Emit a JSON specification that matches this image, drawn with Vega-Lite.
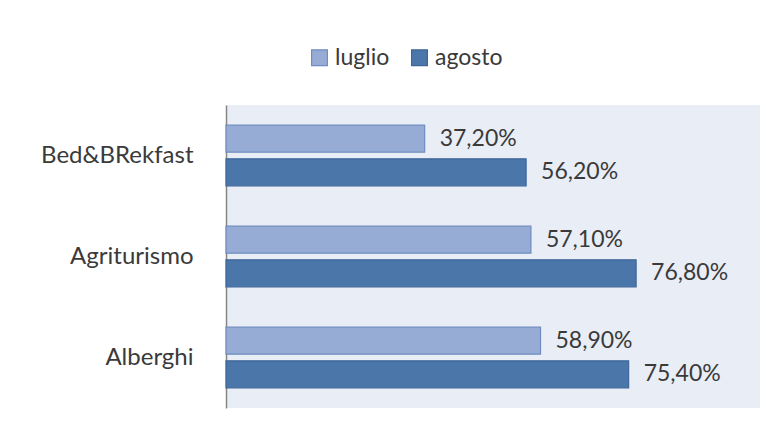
{
  "$schema": "https://vega.github.io/schema/vega-lite/v6.json",
  "width": 534,
  "height": 303,
  "autosize": {"type": "none"},
  "padding": {"left": 226, "top": 105, "right": 22, "bottom": 19},
  "background": "white",
  "config": {
    "locale": {"number": {"decimal": ",", "thousands": ".", "grouping": [3], "currency": ["€", ""]}},
    "view": {"fill": "#E9EDF5", "stroke": null},
    "font": "Lato"
  },
  "data": {
    "values": [
      {"struttura": "Bed&BRekfast", "mese": "luglio", "valore": 0.372},
      {"struttura": "Bed&BRekfast", "mese": "agosto", "valore": 0.562},
      {"struttura": "Agriturismo", "mese": "luglio", "valore": 0.571},
      {"struttura": "Agriturismo", "mese": "agosto", "valore": 0.768},
      {"struttura": "Alberghi", "mese": "luglio", "valore": 0.589},
      {"struttura": "Alberghi", "mese": "agosto", "valore": 0.754}
    ]
  },
  "encoding": {
    "y": {
      "field": "struttura",
      "type": "nominal",
      "sort": ["Bed&BRekfast", "Agriturismo", "Alberghi"],
      "scale": {"paddingInner": 0.4, "paddingOuter": 0.2},
      "axis": {
        "title": null,
        "ticks": false,
        "grid": false,
        "domain": true,
        "domainColor": "#868686",
        "domainWidth": 1.5,
        "labelFontSize": 24,
        "labelColor": "#3A3A3A",
        "labelPadding": 33
      }
    },
    "yOffset": {
      "field": "mese",
      "type": "nominal",
      "sort": ["luglio", "agosto"],
      "scale": {"paddingInner": 0.2}
    },
    "x": {
      "field": "valore",
      "type": "quantitative",
      "scale": {"domain": [0, 1], "nice": false},
      "axis": null
    }
  },
  "layer": [
    {
      "mark": {"type": "bar", "strokeWidth": 1.2},
      "encoding": {
        "color": {
          "field": "mese",
          "type": "nominal",
          "sort": ["luglio", "agosto"],
          "scale": {"domain": ["luglio", "agosto"], "range": ["#97ACD5", "#4A76AA"]},
          "legend": {
            "title": null,
            "orient": "none",
            "legendX": 82,
            "legendY": -59,
            "direction": "horizontal",
            "symbolType": "square",
            "symbolSize": 250,
            "symbolStrokeWidth": 1.2,
            "labelFontSize": 23,
            "labelColor": "#3A3A3A",
            "labelOffset": 4,
            "columnPadding": 18
          }
        },
        "stroke": {
          "field": "mese",
          "type": "nominal",
          "sort": ["luglio", "agosto"],
          "scale": {"domain": ["luglio", "agosto"], "range": ["#6F8DC0", "#3E6799"]},
          "legend": {
            "title": null,
            "orient": "none",
            "legendX": 82,
            "legendY": -59,
            "direction": "horizontal",
            "symbolType": "square",
            "symbolSize": 250,
            "symbolStrokeWidth": 1.2,
            "labelFontSize": 23,
            "labelColor": "#3A3A3A",
            "labelOffset": 4,
            "columnPadding": 18
          }
        }
      }
    },
    {
      "mark": {"type": "text", "align": "left", "baseline": "middle", "dx": 15, "fontSize": 23, "color": "#3A3A3A"},
      "encoding": {
        "text": {"field": "valore", "type": "quantitative", "format": ".2%"}
      }
    }
  ]
}
